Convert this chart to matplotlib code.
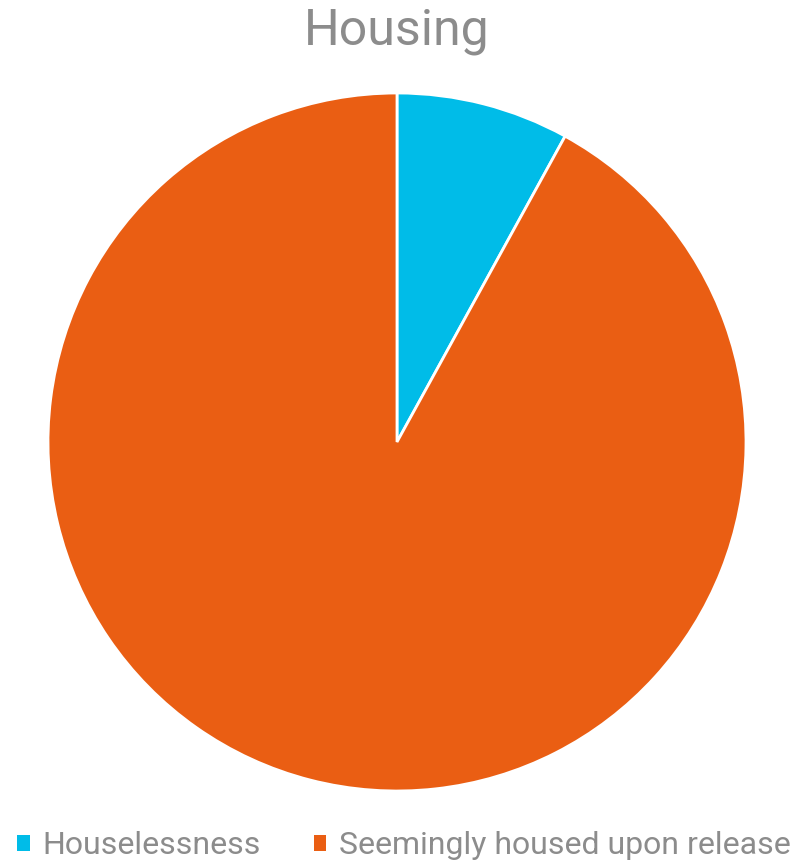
import matplotlib.pyplot as plt
from matplotlib.patches import Patch

labels = ["Houselessness", "Seemingly housed upon release"]
values = [8, 92]
colors = ["#00bce8", "#ea5e13"]

plt.rcParams['font.family'] = ['Roboto', 'DejaVu Sans']

fig = plt.figure(figsize=(8.02, 8.65), dpi=100)
ax = fig.add_axes([48 / 802, 74 / 865, 698 / 802, 698 / 865])
ax.pie(values, colors=colors, startangle=90, counterclock=False,
       wedgeprops={'edgecolor': 'white', 'linewidth': 2})
ax.set_aspect('equal')
ax.set_xlim(-1, 1)
ax.set_ylim(-1, 1)

fig.text(397 / 802, 1 - 31 / 865, "Housing", ha='center', va='center',
         fontsize=36, color='#8c8c8c')

handles = [Patch(facecolor=c, edgecolor='none') for c in colors]
fig.legend(handles, labels, loc='center', bbox_to_anchor=(404 / 802, 1 - 846 / 865),
           ncol=2, frameon=False, fontsize=23, labelcolor='#8c8c8c',
           handlelength=0.4, handleheight=0.4, handletextpad=0.4,
           columnspacing=1.65, borderpad=0, borderaxespad=0)

fig.savefig("out.png", dpi=100)
